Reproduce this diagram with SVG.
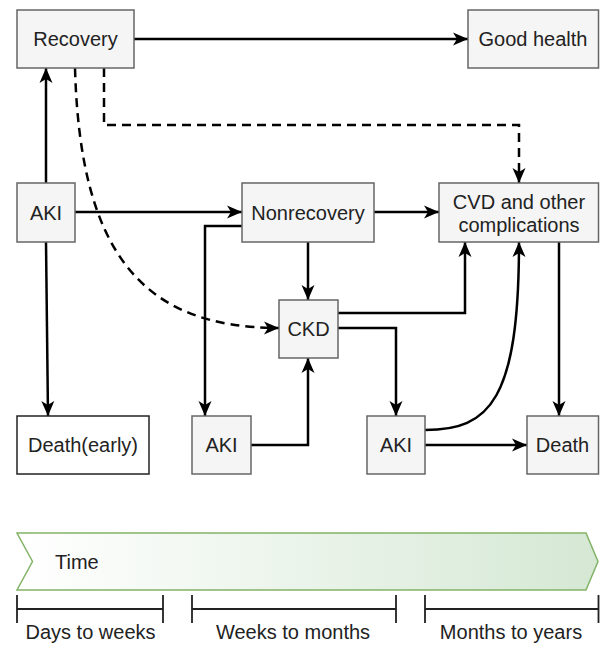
<svg xmlns="http://www.w3.org/2000/svg" width="600" height="645" viewBox="0 0 600 645">
<style>
.node rect{fill:#f5f5f5;stroke:#666666;stroke-width:1.5}
.node text,.lbl{font-family:"Liberation Sans",Arial,sans-serif;font-size:20px;fill:#222222;text-anchor:middle}
.e{fill:none;stroke:#000000;stroke-width:2.5}
.d{stroke-dasharray:9 6}
.br{fill:none;stroke:#222222;stroke-width:1.8}
</style>
<defs>
<marker id="a" markerUnits="userSpaceOnUse" markerWidth="16" markerHeight="14" refX="15" refY="7" orient="auto">
<path d="M0,0.5 L15,7 L0,13.5 L4,7 Z" fill="#000000"/>
</marker>
<linearGradient id="g" x1="0" y1="0" x2="1" y2="0">
<stop offset="0" stop-color="#ffffff"/>
<stop offset="1" stop-color="#d5e8d4"/>
</linearGradient>
</defs>
<g id="connectors">
<path class="e" d="M134,39 H468" marker-end="url(#a)"/>
<path class="e" d="M46,183 V68" marker-end="url(#a)"/>
<path class="e" d="M75,212 H242" marker-end="url(#a)"/>
<path class="e" d="M46,242 L48,416" marker-end="url(#a)"/>
<path class="e" d="M374,212 H439" marker-end="url(#a)"/>
<path class="e" d="M242,226 H205 V416" marker-end="url(#a)"/>
<path class="e" d="M308,242 V300" marker-end="url(#a)"/>
<path class="e" d="M251,445 H308 V358" marker-end="url(#a)"/>
<path class="e" d="M338,313 H465 V242" marker-end="url(#a)"/>
<path class="e" d="M338,328 H396 V416" marker-end="url(#a)"/>
<path class="e" d="M425,430 C490,430 519,400 519,242" marker-end="url(#a)"/>
<path class="e" d="M425,445 H527" marker-end="url(#a)"/>
<path class="e" d="M559,242 V416" marker-end="url(#a)"/>
<path class="e d" d="M104,68 V125 H519 V183" marker-end="url(#a)"/>
<path class="e d" d="M75,68 C80,250 140,328 279,328" marker-end="url(#a)"/>
</g>
<g id="recovery" class="node"><rect x="17" y="10" width="117" height="58"/><text x="75.5" y="46">Recovery</text></g>
<g id="goodhealth" class="node"><rect x="468" y="10" width="130.5" height="58"/><text x="533" y="46">Good health</text></g>
<g id="aki1" class="node"><rect x="17" y="183" width="58" height="59"/><text x="46" y="219.5">AKI</text></g>
<g id="nonrecovery" class="node"><rect x="242" y="183" width="132" height="59"/><text x="308" y="219.5">Nonrecovery</text></g>
<g id="cvd" class="node"><rect x="439" y="183" width="159.5" height="59"/><text x="519" y="209">CVD and other</text><text x="519" y="232">complications</text></g>
<g id="ckd" class="node"><rect x="279" y="300" width="59" height="58"/><text x="308.5" y="336">CKD</text></g>
<g id="deathearly" class="node"><rect x="17" y="416" width="132" height="58" style="fill:#ffffff;stroke:#222222"/><text x="83" y="452">Death(early)</text></g>
<g id="aki2" class="node"><rect x="192" y="416" width="59" height="58"/><text x="221.5" y="452">AKI</text></g>
<g id="aki3" class="node"><rect x="367" y="416" width="58" height="58"/><text x="396" y="452">AKI</text></g>
<g id="death" class="node"><rect x="527" y="416" width="71.5" height="58"/><text x="562.5" y="452">Death</text></g>
<g id="timeline">
<path d="M17,533 H586 L598,561.5 L586,590 H17 L32.5,561.5 Z" fill="url(#g)" stroke="#82b366" stroke-width="1.5"/>
<text class="lbl" x="55" y="569" style="text-anchor:start">Time</text>
<path class="br" d="M17,595 V623 M17,609 H163 M163,595 V623"/>
<path class="br" d="M192,595 V623 M192,609 H396 M396,595 V623"/>
<path class="br" d="M425,595 V623 M425,609 H598.5 M598.5,595 V623"/>
<text class="lbl" x="90.5" y="639">Days to weeks</text>
<text class="lbl" x="293" y="639">Weeks to months</text>
<text class="lbl" x="511" y="639">Months to years</text>
</g>
</svg>
